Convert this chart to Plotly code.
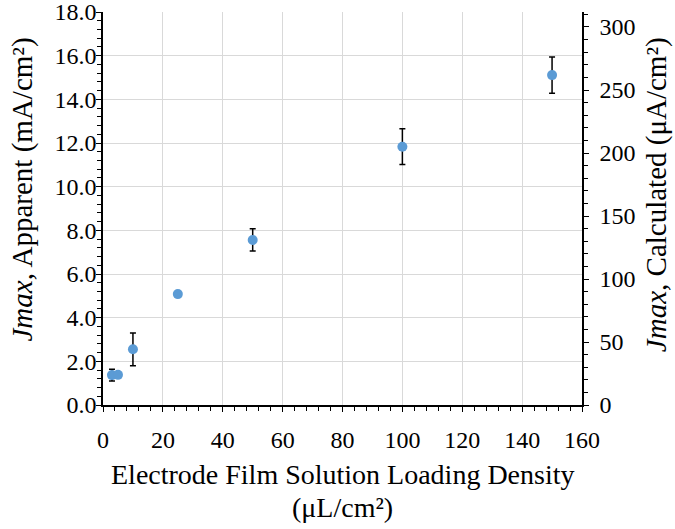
import plotly.graph_objects as go

loading = [3, 5, 10, 25, 50, 100, 150]
jmax_apparent = [1.37, 1.38, 2.55, 5.08, 7.56, 11.83, 15.11]
jmax_err = [0.27, 0.0, 0.75, 0.0, 0.51, 0.82, 0.83]

x_ticks = [0, 20, 40, 60, 80, 100, 120, 140, 160]
y_ticks = [0, 2, 4, 6, 8, 10, 12, 14, 16, 18]
y2_ticks = [0, 50, 100, 150, 200, 250, 300]

x_title = ["Electrode Film Solution Loading Density", "(μL/cm²)"]
y_title = "<i>Jmax</i>, Apparent (mA/cm²)"
y2_title = "<i>Jmax</i>, Calculated (μA/cm²)"

FONT = "Liberation Serif, Times New Roman, serif"

fig = go.Figure()
fig.add_trace(go.Scatter(
    x=loading, y=jmax_apparent, mode="markers",
    marker=dict(color="#5B9BD5", size=10),
    error_y=dict(type="data", array=jmax_err, visible=True,
                 color="black", thickness=1.5, width=3),
    showlegend=False, yaxis="y",
))
# empty trace so the secondary (right) axis is drawn
fig.add_trace(go.Scatter(x=[], y=[], yaxis="y2", showlegend=False, hoverinfo="skip"))

common = dict(showline=True, linecolor="black", linewidth=1.5,
              ticks="outside", ticklen=5, tickcolor="black", tickwidth=1.2,
              zeroline=False, automargin=False, ticklabeloverflow="allow",
              tickfont=dict(size=24))

fig.update_layout(
    width=675, height=529,
    margin=dict(l=103, r=93, t=12, b=124),
    paper_bgcolor="white", plot_bgcolor="white",
    font=dict(family=FONT, size=24, color="black"),
    xaxis=dict(
        range=[0, 160], tickvals=x_ticks, ticktext=[str(v) for v in x_ticks],
        minor=dict(ticks="outside", dtick=4, ticklen=4, tickcolor="black", showgrid=False),
        showgrid=True, gridcolor="#d9d9d9", gridwidth=1,
        ticklabelstandoff=7,
        **common,
    ),
    yaxis=dict(
        range=[0, 18], tickvals=y_ticks, ticktext=[f"{v:.1f}" for v in y_ticks],
        minor=dict(ticks="outside", dtick=0.4, ticklen=4, tickcolor="black", showgrid=False),
        showgrid=True, gridcolor="#d9d9d9", gridwidth=1,
        ticklabelstandoff=-5,
        **common,
    ),
    yaxis2=dict(
        overlaying="y", side="right", anchor="x",
        range=[0, 311.9], tickvals=y2_ticks, ticktext=[str(v) for v in y2_ticks],
        minor=dict(ticks="outside", dtick=10, ticklen=4, tickcolor="black", showgrid=False),
        showgrid=False, ticklabelstandoff=6,
        **common,
    ),
    annotations=[
        dict(text=x_title[0], xref="paper", yref="paper", x=0.5, y=-0.178,
             xanchor="center", yanchor="middle", showarrow=False, font=dict(size=28)),
        dict(text=x_title[1], xref="paper", yref="paper", x=0.5, y=-0.262,
             xanchor="center", yanchor="middle", showarrow=False, font=dict(size=28)),
        dict(text=y_title, xref="paper", yref="paper", x=-0.168, y=0.547,
             xanchor="center", yanchor="middle", showarrow=False, textangle=-90,
             font=dict(size=29)),
        dict(text=y2_title, xref="paper", yref="paper", x=1.1545, y=0.534,
             xanchor="center", yanchor="middle", showarrow=False, textangle=-90,
             font=dict(size=29)),
    ],
)

fig.write_html("out.html", config={"displayModeBar": False},
               post_script="document.body.style.margin='0';")
